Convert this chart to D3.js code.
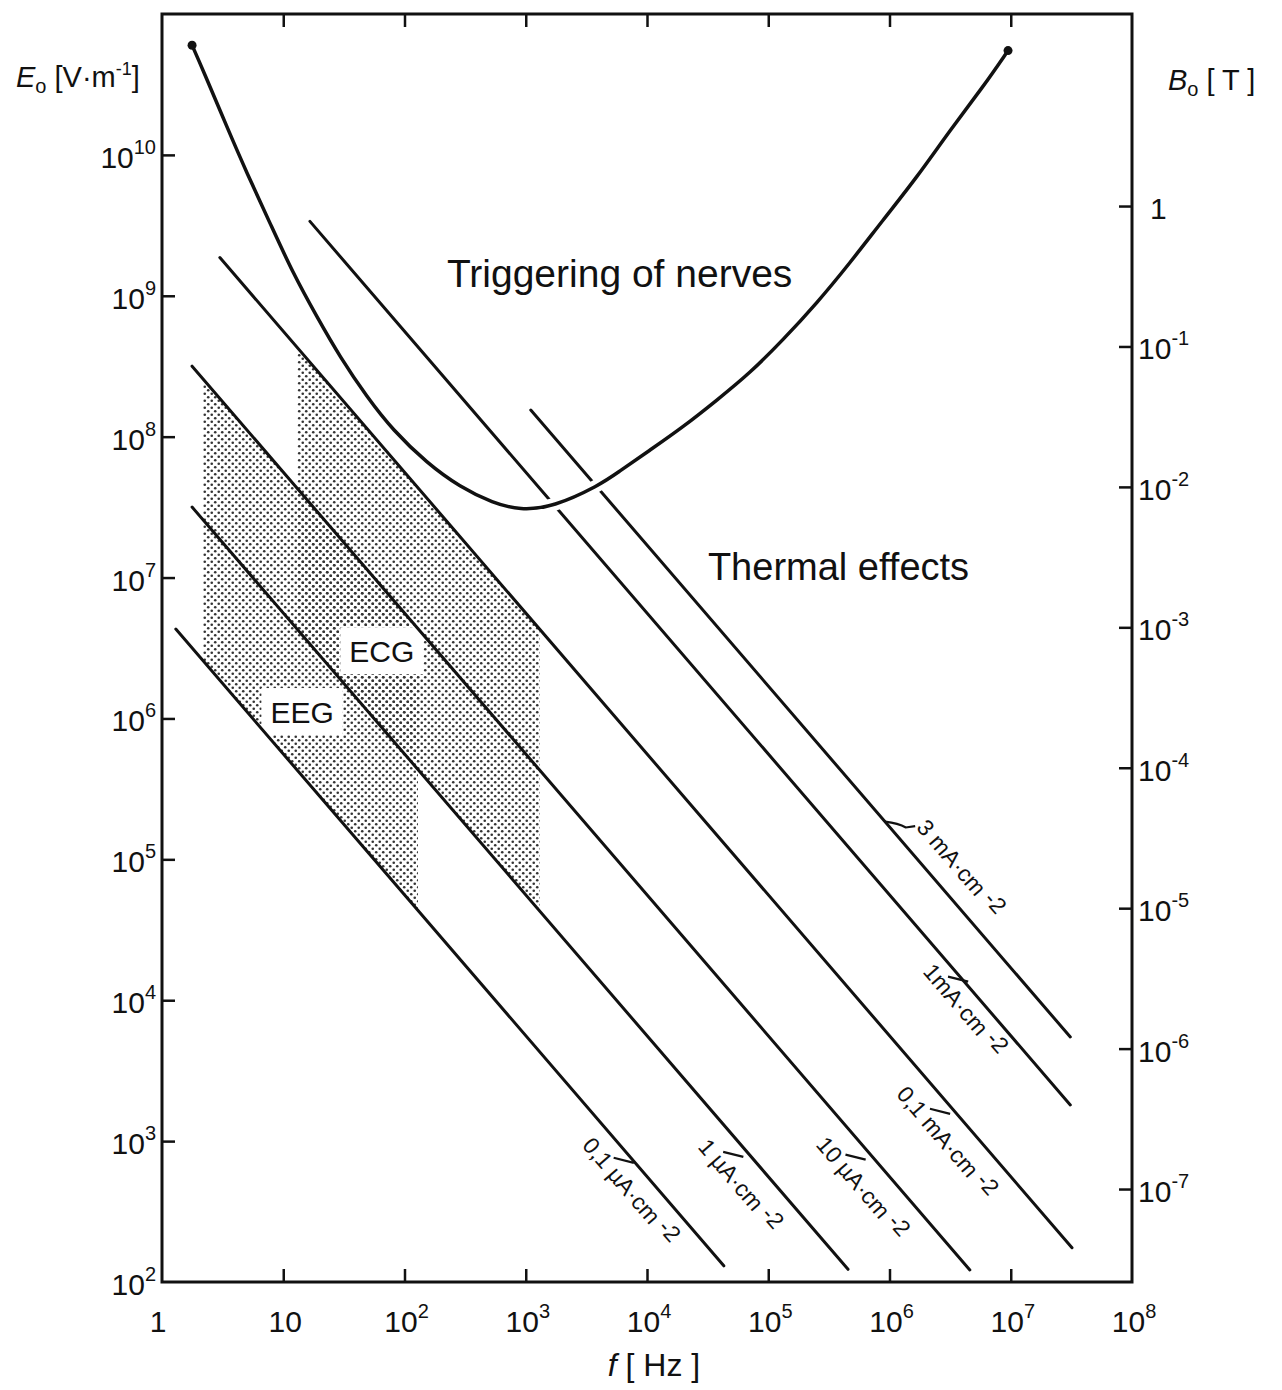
<!DOCTYPE html>
<html>
<head>
<meta charset="utf-8">
<title>Field strength vs frequency</title>
<script src="https://cdn.jsdelivr.net/npm/d3@7"></script>
<style>
  body { margin: 0; background: #fff; }
  text { font-family: "Liberation Sans", Arial, sans-serif; fill: #111; }
  .tick line { stroke: #111; stroke-width: 2.5; }
</style>
</head>
<body>
<script>

// axis ticks
var fTicks = [1, 1e1, 1e2, 1e3, 1e4, 1e5, 1e6, 1e7, 1e8];
var fTickLabels = ["1", "10", "10^2", "10^3", "10^4", "10^5", "10^6", "10^7", "10^8"];
var eTicks = [1e2, 1e3, 1e4, 1e5, 1e6, 1e7, 1e8, 1e9, 1e10];
var eTickLabels = ["10^2", "10^3", "10^4", "10^5", "10^6", "10^7", "10^8", "10^9", "10^10"];
var bTicks = [1e-7, 1e-6, 1e-5, 1e-4, 1e-3, 1e-2, 1e-1, 1];
var bTickLabels = ["10^-7", "10^-6", "10^-5", "10^-4", "10^-3", "10^-2", "10^-1", "1"];

// threshold curve "triggering of nerves" (f in Hz, E in V/m)
var nerveF = [1.77, 2.18, 3.44, 5.02, 7.78, 12.0, 19.0, 29.4, 49.1, 80.4, 153, 287, 537, 897,
              1680, 4090, 5660, 1.06e4, 1.98e4, 3.78e4, 7.07e4, 1.32e5, 2.52e5, 4.72e5,
              8.84e5, 1.69e6, 3.16e6, 5.9e6, 9.5e6];
var nerveE = [6.0e10, 4.0e10, 1.57e10, 7.4e9, 3.28e9, 1.45e9, 7.06e8, 3.67e8, 1.91e8, 1.11e8,
              6.5e7, 4.39e7, 3.38e7, 3.01e7, 3.16e7, 4.54e7, 5.52e7, 8.04e7, 1.17e8, 1.82e8,
              2.83e8, 4.85e8, 8.88e8, 1.71e9, 3.45e9, 6.96e9, 1.50e10, 3.03e10, 5.5e10];

// current density lines: E = K / f
var lineNames = ["0,1 µA·cm", "1 µA·cm", "10 µA·cm", "0,1 mA·cm", "1mA·cm", "3 mA·cm"];
var lineK     = [5.6e6, 5.6e7, 5.6e8, 5.6e9, 5.6e10, 1.7e11];
var lineFrom  = [1.3, 1.77, 1.77, 3.0, 16.6, 1100];
var lineTo    = [4.3e4, 4.55e5, 4.6e6, 3.2e7, 3.1e7, 3.1e7];
var labelF    = [1.0e4, 8.6e4, 8.9e5, 4.3e6, 5.4e6, 2.6e6];

// shaded bands, bounded by two current lines and two frequencies
var bandNames = ["EEG", "ECG"];
var bandFrom  = [2.18, 13];
var bandTo    = [129, 1310];
var bandTopK  = [5.6e8, 5.6e9];
var bandBotK  = [5.6e6, 5.6e7];
var bandLabelF = [14.3, 65];
var bandLabelE = [1.11e6, 3.0e6];

var width = 1282, height = 1390;
var pLeft = 162, pRight = 1132, pTop = 14, pBottom = 1282;

var x = d3.scaleLog().domain([1, 1e8]).range([pLeft, pRight]);
var y = d3.scaleLog().domain([1e2, 1e11]).range([pBottom, pTop]);
var yB = d3.scaleLog().domain([Math.pow(10, -7.662), Math.pow(10, 1.3675)]).range([pBottom, pTop]);

var svg = d3.select("body").append("svg")
    .attr("width", width)
    .attr("height", height);

svg.append("rect").attr("width", width).attr("height", height).attr("fill", "#fff");

var defs = svg.append("defs");
var pat = defs.append("pattern")
    .attr("id", "dots")
    .attr("width", 7).attr("height", 7)
    .attr("patternUnits", "userSpaceOnUse");
pat.append("circle").attr("cx", 1.75).attr("cy", 1.75).attr("r", 1.3).attr("fill", "#333");
pat.append("circle").attr("cx", 5.25).attr("cy", 5.25).attr("r", 1.3).attr("fill", "#333");

function label(sel, s, supSize, supDy) {
  var p = s.split("^");
  sel.text(p[0]);
  if (p[1]) sel.append("tspan").attr("dy", supDy).attr("font-size", supSize).text(p[1]);
}

// shaded bands
bandNames.forEach(function (n, i) {
  var f0 = bandFrom[i], f1 = bandTo[i];
  var pts = [[f0, bandTopK[i] / f0], [f1, bandTopK[i] / f1], [f1, bandBotK[i] / f1], [f0, bandBotK[i] / f0]];
  svg.append("path")
    .attr("d", "M" + pts.map(function (d) { return x(d[0]) + "," + y(d[1]); }).join("L") + "Z")
    .attr("fill", "url(#dots)");
});

var boxes = svg.append("g");

// frame and ticks
svg.append("rect")
  .attr("x", pLeft).attr("y", pTop)
  .attr("width", pRight - pLeft).attr("height", pBottom - pTop)
  .attr("fill", "none").attr("stroke", "#111").attr("stroke-width", 3);

svg.append("g").attr("transform", "translate(0," + pBottom + ")")
  .call(d3.axisBottom(x).tickValues(fTicks.slice(1, -1)).tickSize(-13).tickFormat(""))
  .call(function (g) { g.select(".domain").remove(); });
svg.append("g").attr("transform", "translate(0," + pTop + ")")
  .call(d3.axisTop(x).tickValues(fTicks.slice(1, -1)).tickSize(-13).tickFormat(""))
  .call(function (g) { g.select(".domain").remove(); });
svg.append("g").attr("transform", "translate(" + pLeft + ",0)")
  .call(d3.axisLeft(y).tickValues(eTicks.slice(1)).tickSize(-13).tickFormat(""))
  .call(function (g) { g.select(".domain").remove(); });
svg.append("g").attr("transform", "translate(" + pRight + ",0)")
  .call(d3.axisRight(yB).tickValues(bTicks).tickSize(-13).tickFormat(""))
  .call(function (g) { g.select(".domain").remove(); });

var tickFont = '"Liberation Sans Narrow", "Liberation Sans", sans-serif';

fTicks.forEach(function (t, i) {
  var s = fTickLabels[i];
  svg.append("text")
    .attr("x", x(t) + (s.indexOf("^") < 0 && s.length == 1 ? -4 : 2))
    .attr("y", pBottom + 50)
    .attr("text-anchor", "middle")
    .attr("font-family", tickFont)
    .attr("font-size", 30)
    .call(label, s, 20, -14);
});

eTicks.forEach(function (t, i) {
  svg.append("text")
    .attr("x", pLeft - 6)
    .attr("y", y(t) + 13)
    .attr("text-anchor", "end")
    .attr("font-family", tickFont)
    .attr("font-size", 30)
    .call(label, eTickLabels[i], 20, -14);
});

bTicks.forEach(function (t, i) {
  var s = bTickLabels[i];
  svg.append("text")
    .attr("x", pRight + (s.indexOf("^") < 0 ? 18 : 6))
    .attr("y", yB(t) + 13)
    .attr("font-family", tickFont)
    .attr("font-size", 30)
    .call(label, s, 20, -14);
});

// current density lines
var lineGen = d3.line().x(function (d) { return x(d[0]); }).y(function (d) { return y(d[1]); });
lineNames.forEach(function (n, i) {
  svg.append("path")
    .attr("d", lineGen([[lineFrom[i], lineK[i] / lineFrom[i]], [lineTo[i], lineK[i] / lineTo[i]]]))
    .attr("fill", "none").attr("stroke", "#111").attr("stroke-width", 3).attr("stroke-linecap", "round");
});

// nerve curve with a white gap where it crosses the lines
var nerve = nerveF.map(function (f, i) { return [f, nerveE[i]]; });
var curveGen = d3.line().x(function (d) { return x(d[0]); }).y(function (d) { return y(d[1]); })
    .curve(d3.curveBasis);
svg.append("path").attr("d", curveGen(nerve))
  .attr("fill", "none").attr("stroke", "#fff").attr("stroke-width", 13);
svg.append("path").attr("d", curveGen(nerve))
  .attr("fill", "none").attr("stroke", "#111").attr("stroke-width", 3.5);
[nerve[0], nerve[nerve.length - 1]].forEach(function (d) {
  svg.append("circle").attr("cx", x(d[0])).attr("cy", y(d[1])).attr("r", 4.5).attr("fill", "#111");
});

// labels along the lines
var ang = Math.atan2(y(1e3) - y(1e4), x(1e4) - x(1e3)) * 180 / Math.PI;
var labelOff = [22, 27, 28, 26, 18, -27];
lineNames.forEach(function (n, i) {
  var f = labelF[i];
  var g = svg.append("g")
    .attr("transform", "translate(" + x(f) + "," + y(lineK[i] / f) + ") rotate(" + ang + ")");
  var t = g.append("text")
    .attr("x", 0).attr("y", labelOff[i] + 8)
    .attr("text-anchor", "middle")
    .attr("font-family", '"DejaVu Sans", sans-serif')
    .attr("font-size", 23)
    .text(n + " ");
  t.append("tspan").attr("dy", -4).text("-2");
  if (labelOff[i] > 0) {
    g.append("path")
      .attr("d", "M-36," + (labelOff[i] - 9) + "L-19," + (labelOff[i] - 21))
      .attr("stroke", "#111").attr("stroke-width", 2.2).attr("fill", "none");
  } else {
    g.append("path")
      .attr("d", "M-84,0Q-74,-9,-66,-12L-61,-20")
      .attr("stroke", "#111").attr("stroke-width", 2.2).attr("fill", "none");
  }
});

// band labels on white boxes
bandNames.forEach(function (n, i) {
  var t = svg.append("text")
    .attr("x", x(bandLabelF[i])).attr("y", y(bandLabelE[i]) + 11)
    .attr("text-anchor", "middle")
    .attr("font-size", 30)
    .text(n);
  var b = t.node().getBBox();
  boxes.append("rect")
    .attr("x", b.x - 9).attr("y", b.y - 8)
    .attr("width", b.width + 18).attr("height", b.height + 14)
    .attr("fill", "#fff");
});

svg.append("text").attr("x", x(224)).attr("y", y(1.15e9))
  .attr("font-size", 39).text("Triggering of nerves");
svg.append("text").attr("x", x(3.18e4)).attr("y", y(9.6e6))
  .attr("font-size", 38).text("Thermal effects");

// axis titles
var et = svg.append("text").attr("x", 16).attr("y", 87).attr("font-size", 29);
et.append("tspan").attr("font-style", "italic").text("E");
et.append("tspan").attr("font-size", 20).attr("dy", 6).text("o");
et.append("tspan").attr("dy", -6).text(" [V·m");
et.append("tspan").attr("font-size", 18).attr("dy", -12).text("-1");
et.append("tspan").attr("dy", 12).text("]");

var bt = svg.append("text").attr("x", 1168).attr("y", 90).attr("font-size", 29);
bt.append("tspan").attr("font-style", "italic").text("B");
bt.append("tspan").attr("font-size", 20).attr("dy", 6).text("o");
bt.append("tspan").attr("dy", -6).text(" [ T ]");

var ft = svg.append("text").attr("x", 654).attr("y", 1376).attr("font-size", 32)
  .attr("text-anchor", "middle");
ft.append("tspan").attr("font-style", "italic").text("f");
ft.append("tspan").text(" [ Hz ]");

</script>
</body>
</html>
